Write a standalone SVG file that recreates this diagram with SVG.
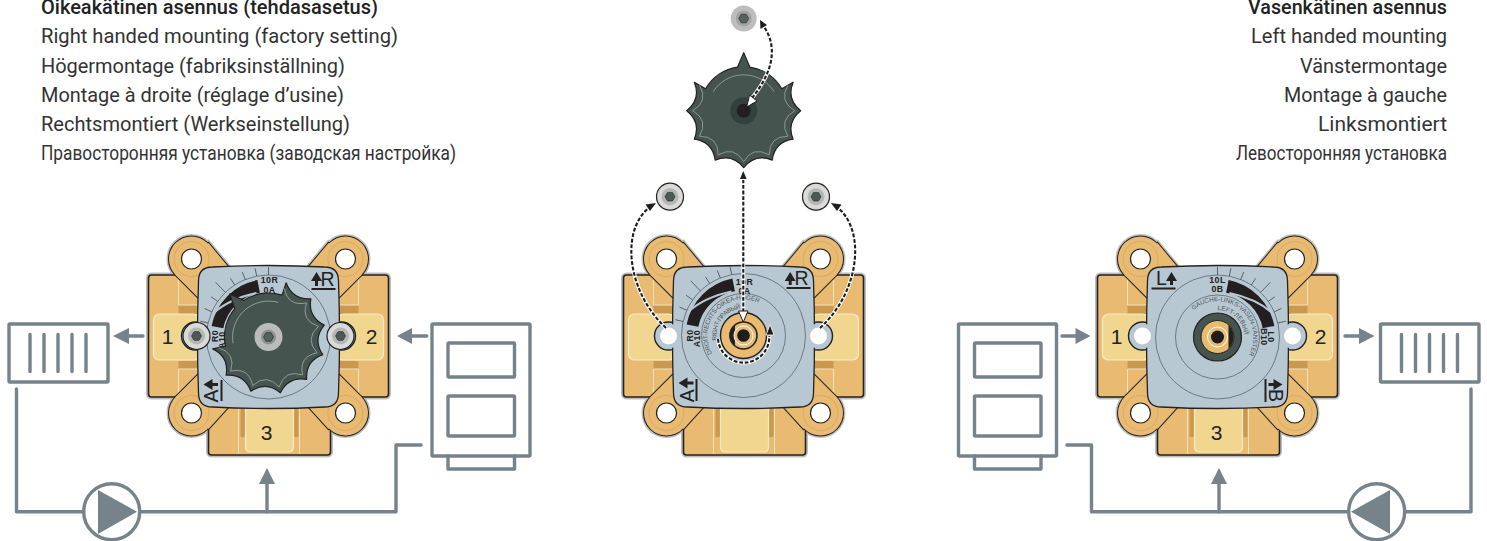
<svg xmlns="http://www.w3.org/2000/svg" width="1487" height="541" viewBox="0 0 1487 541">
<style>
.t{font-family:"Roboto","Liberation Sans",sans-serif;font-size:20px;fill:#333}
.ru{font-size:21px}
.b{font-weight:500;fill:#222}
.g{fill:none;stroke:#76838A;stroke-width:3.4;stroke-linejoin:round;stroke-linecap:round}
.gf{fill:#76838A;stroke:none}
.d{font-family:"Liberation Sans",sans-serif;font-weight:700;font-size:8.8px;fill:#222;text-anchor:middle;letter-spacing:.4px}
.a{font-family:"Liberation Sans",sans-serif;font-size:6.3px;fill:#4b565c}
.n{font-family:"Liberation Sans",sans-serif;font-size:21px;fill:#222;text-anchor:middle}
.c{font-family:"Liberation Sans",sans-serif;font-size:19.5px;fill:#222;text-anchor:middle}
.th{fill:none;stroke:#4b565c;stroke-width:.7}
.tk{stroke:#333;stroke-width:.7;fill:none}
.dash{fill:none;stroke:#1d1d1d;stroke-width:2.1;stroke-dasharray:3.8 1.8}
.halo{fill:none;stroke:#fff;stroke-width:3.8}
</style>
<defs>
<g id="ears">
<circle cx="-77" cy="-78" r="22.5"/><circle cx="77" cy="-78" r="22.5"/><circle cx="-77" cy="76" r="22.5"/><circle cx="77" cy="76" r="22.5"/>
<path d="M-93,-62L-71,-40L-40,-70L-60,-94Z"/>
<path d="M93,-62L71,-40L40,-70L60,-94Z"/>
<path d="M-93,60L-71,38L-40,70L-60,92Z"/>
<path d="M93,60L71,38L40,70L60,92Z"/>
</g>
<g id="sil">
<rect x="-120" y="-62" width="240" height="122" rx="3"/>
<rect x="-60" y="50" width="122" height="68" rx="3"/>
<use href="#ears"/>
</g>
<g id="base">
<use href="#sil" fill="#bdbdbd" stroke="#bdbdbd" stroke-width="5"/>
<rect x="-120" y="-62" width="240" height="122" rx="3" fill="#E9BB72" stroke="#222" stroke-width="1.6"/>
<rect x="-60" y="50" width="122" height="68" rx="3" fill="#E9BB72" stroke="#222" stroke-width="1.6"/>
<path d="M-90,-32H-70V-23H-90ZM70,-32H90V-23H70ZM-90,24H-70V32H-90ZM70,24H90V32H70ZM-28,70H-23V100H-28ZM25,70H30V100H25Z" fill="#CB994E"/>
<path d="M-90,-61V-32H-70M90,-61V-32H70M-90,59V32H-70M90,59V32H70M-30,70V117M31,70V117" fill="none" stroke="#F6E3B8" stroke-width="1"/>
<rect x="-115" y="-23" width="46" height="46" rx="6" fill="#F1D68F" stroke="#F8EBC8" stroke-width="1.2"/>
<rect x="69" y="-23" width="46" height="46" rx="6" fill="#F1D68F" stroke="#F8EBC8" stroke-width="1.2"/>
<path d="M-23,60H25V110Q25,115 20,115H-18Q-23,115 -23,110Z" fill="#F1D68F" stroke="#F8EBC8" stroke-width="1.2"/>
<use href="#ears" fill="#222" stroke="#222" stroke-width="2"/>
<use href="#ears" fill="#E9BB72"/>
<g fill="none" stroke="#D3A55C" stroke-width=".8">
<circle cx="-77" cy="-78" r="17.5"/><circle cx="77" cy="-78" r="17.5"/><circle cx="-77" cy="76" r="17.5"/><circle cx="77" cy="76" r="17.5"/>
</g>
<g fill="#fff" stroke="#222" stroke-width="1.2">
<circle cx="-77" cy="-78" r="10"/><circle cx="77" cy="-78" r="10"/><circle cx="-77" cy="76" r="10"/><circle cx="77" cy="76" r="10"/>
</g>
</g>
<path id="cover" d="M-56,-70Q0,-73 56,-70Q70,-70 70,-56Q72,0 70,56Q70,70 56,70Q0,73 -56,70Q-70,70 -70,56Q-72,0 -70,-56Q-70,-70 -56,-70Z" fill="#B8C8D2" stroke="#222" stroke-width="1.3"/>
<circle id="lobeBack" r="14" fill="#B8C8D2" stroke="#222" stroke-width="1.4"/>
<g id="lobeFront">
<circle r="12.500" fill="#B8C8D2"/>
<circle r="8.500" fill="#fff"/>
</g>
<g id="band">
<path d="M-56.9,-11.1A58,58 0 0 1 -11.1,-56.9L-8.6,-44.2A45,45 0 0 0 -45.2,-8.8Z" fill="#231F20"/>
<path d="M-56,-23Q-40,-38 -12,-44" fill="none" stroke="#B8C8D2" stroke-width="2"/>
<path class="tk" d="M0,-62V-70M-11.8,-60.9L-13.4,-68.7M-23.2,-57.5L-26.2,-64.9M-33.8,-52L-38.1,-58.7M-43.1,-44.6L-52.8,-54.7M-50.8,-35.6L-57.3,-40.2M-56.7,-25.2L-64,-28.5M-60.4,-14L-68.2,-15.8"/>
</g>
<g id="knob">
<path d="M0,-58L6.1,-43.6A44,44 0 0 1 38.1,-22L49.4,-28.5Q42.5,-11.4 57,0Q42.5,11.4 49.4,28.5Q31.1,31.1 28.5,49.4Q11.4,42.5 0,57Q-11.4,42.5 -28.5,49.4Q-31.1,31.1 -49.4,28.5Q-42.5,11.4 -57,0Q-42.5,-11.4 -49.4,-28.5L-38.1,-22A44,44 0 0 1 -6.1,-43.6Z" fill="#45544F" stroke="#222" stroke-width="1.2" stroke-linejoin="round"/>
<path d="M-30.5,-19A36,36 0 0 1 30.5,-19M44.2,-25.5Q34.8,-9.3 51,0Q34.8,9.3 44.2,25.5Q25.5,25.5 25.5,44.2Q9.3,34.8 0,51Q-9.3,34.8 -25.5,44.2Q-25.5,25.5 -44.2,25.5Q-34.8,9.3 -51,0Q-34.8,-9.3 -44.2,-25.5" fill="none" stroke="#A8B5B0" stroke-width=".7"/>
</g>
<polygon id="hex" points="5,0 2.5,4.3 -2.5,4.3 -5,0 -2.5,-4.3 2.5,-4.3"/>
<g id="screw">
<circle r="13.5" fill="#DADAD8" stroke="#222" stroke-width="1.2"/>
<circle r="8.5" fill="#B4B7B5"/>
<use href="#hex" fill="#4B5A57" stroke="#222" stroke-width=".6"/>
</g>
<path id="pOut" d="M-31.2,18A36,36 0 0 1 31.2,-18"/>
<path id="pIn" d="M-26.6,4.7A27,27 0 0 1 23.4,-13.5"/>
<path id="qOut" d="M-24,-26.8A36,36 0 0 1 27.6,23.1"/>
<path id="qIn" d="M0,-27A27,27 0 0 1 4.7,26.6"/>
<g id="bars">
<path class="g" d="M0,0V37M14,0V37M28,0V37M42,0V37M56,0V37" stroke-width="3.2"/>
</g>
<g id="boiler">
<rect x="0" y="0" width="98" height="132" rx="1" class="g"/>
<rect x="16" y="19" width="66.500" height="34" rx="1" class="g"/>
<rect x="16" y="72" width="66.500" height="40" rx="1" class="g"/>
<path class="g" d="M16,132V145H82.500V132"/>
</g>
</defs>

<g id="text-left">
<text class="t b" x="41" y="14" textLength="337" lengthAdjust="spacingAndGlyphs">Oikeakätinen asennus (tehdasasetus)</text>
<text class="t" x="41" y="43" textLength="357" lengthAdjust="spacingAndGlyphs">Right handed mounting (factory setting)</text>
<text class="t" x="41" y="72.500" textLength="304" lengthAdjust="spacingAndGlyphs">Högermontage (fabriksinställning)</text>
<text class="t" x="41" y="101.500" textLength="303" lengthAdjust="spacingAndGlyphs">Montage à droite (réglage d’usine)</text>
<text class="t" x="41" y="130.500" textLength="309" lengthAdjust="spacingAndGlyphs">Rechtsmontiert (Werkseinstellung)</text>
<text class="t ru" x="41" y="160" textLength="415" lengthAdjust="spacingAndGlyphs">Правосторонняя установка (заводская настройка)</text>
</g>
<g id="text-right">
<text class="t b" x="1248" y="14" textLength="199" lengthAdjust="spacingAndGlyphs">Vasenkätinen asennus</text>
<text class="t" x="1251" y="43" textLength="196" lengthAdjust="spacingAndGlyphs">Left handed mounting</text>
<text class="t" x="1300" y="72.500" textLength="147" lengthAdjust="spacingAndGlyphs">Vänstermontage</text>
<text class="t" x="1284" y="101.500" textLength="163" lengthAdjust="spacingAndGlyphs">Montage à gauche</text>
<text class="t" x="1318" y="130.500" textLength="129" lengthAdjust="spacingAndGlyphs">Linksmontiert</text>
<text class="t ru" x="1236" y="160" textLength="211" lengthAdjust="spacingAndGlyphs">Левосторонняя установка</text>
</g>

<g id="valve-left" transform="translate(268.5,337)">
<use href="#base"/>
<text class="n" x="-101" y="7">1</text><text class="n" x="103" y="7">2</text><text class="n" x="-2" y="103">3</text>
<use href="#lobeBack" x="-73" y="-1"/><use href="#lobeBack" x="73" y="-1"/>
<use href="#cover"/>
<circle r="62" class="th"/>
<use href="#band"/>
<text class="d" x="1" y="-54">10R</text><text class="d" x="1" y="-44.500">0A</text>
<text class="d" transform="translate(-51,-1) rotate(-90)">R0</text>
<text class="d" transform="translate(-43.500,3) rotate(-90)">A10</text>
<g transform="rotate(-42)"><use href="#knob"/></g>
<circle r="14" fill="#B9BCBA"/><circle r="7.500" fill="#8E9391"/><use href="#hex" fill="#55625F" stroke="#222" stroke-width=".6"/>
<use href="#screw" x="-72" y="-1"/><use href="#screw" x="72" y="-1"/>
<text class="c" x="59" y="-51">R</text>
<polygon points="48,-65 42.500,-56 46.500,-56 46.500,-51 49.500,-51 49.500,-56 53.500,-56" fill="#222"/>
<rect x="43" y="-49" width="24" height="2" fill="#222"/>
<text class="c" transform="translate(-50.500,59) rotate(-90)">A</text>
<polygon points="-65,47.500 -56,42 -56,46 -50.500,46 -50.500,49 -56,49 -56,53" fill="#222"/>
<rect x="-48" y="43" width="2" height="21" fill="#222"/>
</g>

<g id="valve-mid" transform="translate(743.5,337)">
<use href="#base"/>
<use href="#lobeBack" x="-75" y="-1"/><use href="#lobeBack" x="75" y="-1"/>
<use href="#cover"/>
<use href="#lobeFront" x="-75" y="-1"/><use href="#lobeFront" x="75" y="-1"/>
<circle cy="-1.500" r="62" class="th"/><circle cy="-1.500" r="42" class="th"/>
<g transform="translate(0,-1.500)">
<use href="#band"/>
<text class="d" x="1" y="-51">10R</text><text class="d" x="1" y="-42">0A</text>
<text class="d" transform="translate(-51,0) rotate(-90)">R0</text>
<text class="d" transform="translate(-43.500,3) rotate(-90)">A10</text>
<text class="a"><textPath href="#pOut" textLength="91">DROIT-RECHTS-OIKEA-HÖGER</textPath></text>
<text class="a"><textPath href="#pIn" textLength="44">RIGHT-ПРАВЫЙ</textPath></text>
<circle r="23" fill="#E9BB72" stroke="#222" stroke-width="1.4"/>
<circle r="13.500" fill="#E9BB72" stroke="#222" stroke-width="1.6"/>
<path d="M-8.500,-11A13.500,13.500 0 0 0 -8.500,11Z" fill="#222"/>
<circle r="9.500" fill="#E9BB72" stroke="#fff" stroke-width="1"/>
<circle r="6.300" fill="#1d1d1d"/>
</g>
<text class="c" x="58" y="-52">R</text>
<polygon points="46.700,-65 41.200,-56 45.200,-56 45.200,-52 48.200,-52 48.200,-56 52.200,-56" fill="#222"/>
<rect x="43" y="-50" width="24" height="2" fill="#222"/>
<text class="c" transform="translate(-50,58.700) rotate(-90)">A</text>
<polygon points="-65,46 -56,40.500 -56,44.500 -50,44.500 -50,47.500 -56,47.500 -56,51.500" fill="#222"/>
<rect x="-48" y="42" width="2" height="22" fill="#222"/>
</g>

<g id="valve-right" transform="translate(1217.5,337)">
<use href="#base"/>
<text class="n" x="-101" y="7">1</text><text class="n" x="103" y="7">2</text><text class="n" x="-1" y="103">3</text>
<use href="#lobeBack" x="-75" y="-1"/><use href="#lobeBack" x="75" y="-1"/>
<use href="#cover"/>
<use href="#lobeFront" x="-75" y="-1"/><use href="#lobeFront" x="75" y="-1"/>
<circle r="62" class="th"/><circle r="42" class="th"/>
<g transform="scale(-1,1)"><use href="#band"/></g>
<text class="d" y="-54">10L</text><text class="d" y="-45">0B</text>
<text class="d" transform="translate(50.500,0) rotate(90)">L0</text>
<text class="d" transform="translate(43.500,0) rotate(90)">B10</text>
<text class="a"><textPath href="#qOut" textLength="101">GAUCHE-LINKS-VASEN-VÄNSTER</textPath></text>
<text class="a"><textPath href="#qIn" textLength="40">LEFT-ЛЕВЫЙ</textPath></text>
<circle r="24" fill="#45544F" stroke="#222" stroke-width="1.2"/>
<circle r="16.500" fill="#E9BB72" stroke="#222" stroke-width="1"/>
<path d="M11,-12A16.500,16.500 0 0 1 11,12Z" fill="#222"/>
<circle r="10" fill="#E9BB72" stroke="#fff" stroke-width="1"/>
<circle r="6.500" fill="#1d1d1d"/>
<text class="c" x="-56" y="-52">L</text>
<polygon points="-46,-65 -51.500,-56 -47.500,-56 -47.500,-52 -44.500,-52 -44.500,-56 -40.500,-56" fill="#222"/>
<rect x="-66" y="-49.500" width="24" height="2" fill="#222"/>
<text class="c" transform="translate(51,58.500) rotate(90)">B</text>
<polygon points="65,47.500 56,42 56,46 51,46 51,49 56,49 56,53" fill="#222"/>
<rect x="47" y="42" width="2" height="23" fill="#222"/>
</g>

<g id="knob-removed" transform="translate(743.7,110.700)">
<use href="#knob"/>
<circle r="13.500" fill="#31413D"/><circle r="7" fill="#231F20"/>
</g>
<g id="screw-top" transform="translate(743.7,18.500)">
<circle r="13" fill="#BDBDBD"/><circle r="8" fill="#A2A5A3"/><use href="#hex" fill="#55625F" stroke="#222" stroke-width=".6"/>
</g>
<g id="screw-left"><use href="#screw" x="670" y="196.700"/></g>
<g id="screw-right"><use href="#screw" x="816" y="196.700"/></g>

<g id="radiator-left" transform="translate(9,324)">
<rect width="99" height="58" rx="1" class="g"/><use href="#bars" x="21" y="10.500"/>
</g>
<g id="boiler-left"><use href="#boiler" x="432" y="324"/></g>
<g id="pump-left">
<circle cx="111.700" cy="511.700" r="28" fill="#fff" stroke="#76838A" stroke-width="3.400"/>
<polygon class="gf" points="98,490 137,511.700 98,534"/>
</g>
<g id="radiator-right" transform="translate(1380.500,324)">
<rect width="98.500" height="58" rx="1" class="g"/><use href="#bars" x="21" y="10.500"/>
</g>
<g id="boiler-right"><use href="#boiler" x="958.500" y="324"/></g>
<g id="pump-right">
<circle cx="1376.700" cy="511.700" r="28" fill="#fff" stroke="#76838A" stroke-width="3.400"/>
<polygon class="gf" points="1390,490 1351,511.700 1390,534"/>
</g>

<g id="connectors">
<path class="g" d="M16.500,389V511.700H83.500"/>
<path class="g" d="M140,511.700H396V445H421"/>
<path class="g" d="M267,511.700V482"/>
<polygon class="gf" points="267,468 259,484 275,484"/>
<path class="g" d="M143,336H128"/>
<polygon class="gf" points="113,336 129,328 129,344"/>
<path class="g" d="M426.700,336H411"/>
<polygon class="gf" points="397,336 412,328 412,344"/>
<path class="g" d="M1471,389V511.700H1405"/>
<path class="g" d="M1348.500,511.700H1091.500V445H1067"/>
<path class="g" d="M1219,511.700V482"/>
<polygon class="gf" points="1219,468 1211,484 1227,484"/>
<path class="g" d="M1062,336H1077"/>
<polygon class="gf" points="1090.500,336 1075.500,328 1075.500,344"/>
<path class="g" d="M1345,336H1360"/>
<polygon class="gf" points="1374.500,336 1359,328 1359,344"/>

<path class="halo" d="M666,328C625,290 620,225 653,205"/>
<path class="dash" d="M666,328C625,290 620,225 653,205"/>
<polygon points="656,203 645.500,204.500 650,211" fill="#1d1d1d"/>
<path class="halo" d="M820,328C862,290 866,225 834,205"/>
<path class="dash" d="M820,328C862,290 866,225 834,205"/>
<polygon points="831,203 841.500,204.500 837,211" fill="#1d1d1d"/>
<path class="halo" d="M743.300,312V180"/>
<path class="dash" d="M743.300,312V180"/>
<polygon points="743.300,171 740,179 746.600,179" fill="#1d1d1d"/>
<polygon points="743.300,322 738.500,311 748,311" fill="#fff" stroke="#1d1d1d" stroke-width="1"/>
<path class="halo" d="M718,339A25.700,25.700 0 0 0 769.300,336"/>
<path class="dash" d="M718,339A25.700,25.700 0 0 0 769.300,336"/>
<polygon points="770,324.500 766,335 774,335" fill="#1d1d1d" stroke="#fff" stroke-width=".8"/>
<path class="halo" d="M752,98C768,78 782,50 762,24"/>
<path class="dash" d="M752,98C768,78 782,50 762,24"/>
<polygon points="760,20 760.500,29 767,25" fill="#1d1d1d"/>
<polygon points="746.700,107 749.500,95 757,101" fill="#fff" stroke="#1d1d1d" stroke-width="1"/>
</g>
</svg>
